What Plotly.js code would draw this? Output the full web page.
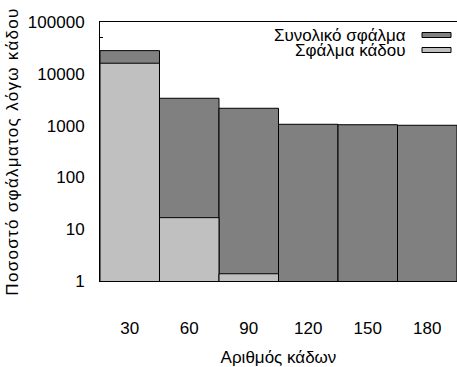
<!DOCTYPE html>
<html>
<head>
<meta charset="utf-8">
<script src="https://cdn.plot.ly/plotly-3.0.1.min.js"></script>
<style>
html,body{margin:0;padding:0;background:#fff}
.ytitle{letter-spacing:1.3px}
</style>
</head>
<body>
<div id="chart" style="width:457px;height:367px"></div>
<script>
const categories = ["30", "60", "90", "120", "150", "180"];
const totalError = [28000, 3370, 2160, 1060, 1040, 1015];
const bucketError = [16000, 16.7, 1.38, null, null, null];
const legendLabels = ["Συνολικό σφάλμα", "Σφάλμα κάδου"];
const yTickVals = [1, 10, 100, 1000, 10000, 100000];
const yTickText = ["1", "10", "100", "1000", "10000", "100000"];

const font = {family: "Liberation Sans, Arial, sans-serif", size: 17, color: "#000"};
const darkGray = "#808080";
const lightGray = "#c0c0c0";

const traces = [
  {type: "bar", x: categories, y: totalError, name: legendLabels[0],
   marker: {color: darkGray, line: {color: "#000", width: 1}}, hoverinfo: "none"},
  {type: "bar", x: categories, y: bucketError, name: legendLabels[1],
   marker: {color: lightGray, line: {color: "#000", width: 1}}, hoverinfo: "none"}
];

const layout = {
  width: 457, height: 367,
  margin: {l: 100, r: 0, t: 22, b: 86},
  paper_bgcolor: "#fff", plot_bgcolor: "#fff",
  font: font,
  barmode: "overlay", bargap: 0,
  showlegend: false,
  xaxis: {
    type: "category", range: [-0.5, 5.5],
    showline: true, linecolor: "#000", linewidth: 1, mirror: true,
    ticks: "", ticklabelstandoff: 32,
    showgrid: false, zeroline: false,
    title: {text: "Αριθμός κάδων", font: font, standoff: 16}
  },
  yaxis: {
    type: "log", range: [0, 5],
    tickvals: yTickVals, ticktext: yTickText,
    ticks: "inside", ticklen: 6, tickcolor: "#000",
    minor: {ticks: "inside", ticklen: 3, dtick: "D2", tickcolor: "#000"},
    layer: "below traces",
    showline: true, linecolor: "#000", linewidth: 1, mirror: true,
    showgrid: false, zeroline: false,
    ticklabelstandoff: 11,
    title: {text: "Ποσοστό σφάλματος λόγω κάδου", font: font, standoff: 4}
  },
  annotations: [
    {xref: "paper", yref: "paper", x: (408 - 100) / 357, y: (281 - 35) / 259,
     xanchor: "right", yanchor: "middle", text: legendLabels[0], showarrow: false, font: font},
    {xref: "paper", yref: "paper", x: (408 - 100) / 357, y: (281 - 50) / 259,
     xanchor: "right", yanchor: "middle", text: legendLabels[1], showarrow: false, font: font}
  ],
  shapes: [
    {type: "rect", xref: "paper", yref: "paper",
     x0: (422 - 100) / 357, x1: (451 - 100) / 357,
     y0: (281 - 37.5) / 259, y1: (281 - 32.5) / 259,
     fillcolor: darkGray, line: {color: "#000", width: 1}},
    {type: "rect", xref: "paper", yref: "paper",
     x0: (422 - 100) / 357, x1: (451 - 100) / 357,
     y0: (281 - 52.5) / 259, y1: (281 - 47.5) / 259,
     fillcolor: lightGray, line: {color: "#000", width: 1}}
  ]
};

Plotly.newPlot("chart", traces, layout, {displayModeBar: false, staticPlot: true});
</script>
</body>
</html>
